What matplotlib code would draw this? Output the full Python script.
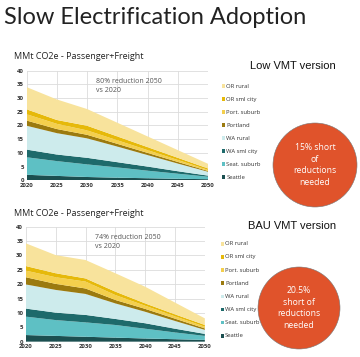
import numpy as np
import matplotlib
matplotlib.use('Agg')
import matplotlib.pyplot as plt
from matplotlib.patches import Circle

years = [2020, 2025, 2030, 2035, 2040, 2045, 2050]
series_names = ['Seattle', 'Seat. suburb', 'WA sml city', 'WA rural',
                'Portland', 'Port. suburb', 'OR sml city', 'OR rural']
series_colors = ['#1b4f50', '#5ec0c4', '#1e6a6b', '#cdebec',
                 '#9b7a0f', '#f4cf4d', '#e6b90a', '#f8e39c']

# Low VMT version (MMt CO2e per region)
low_seattle = [2.0, 1.6, 1.2, 0.95, 0.75, 0.55, 0.4]
low_seat_suburb = [6.4, 5.4, 4.6, 3.75, 2.75, 1.85, 0.9]
low_wa_sml_city = [2.8, 2.4, 2.4, 1.9, 1.5, 0.9, 0.4]
low_wa_rural = [8.7, 7.8, 7.1, 5.7, 4.2, 2.8, 1.4]
low_portland = [1.9, 1.5, 1.3, 1.0, 0.8, 0.6, 0.3]
low_port_suburb = [2.3, 1.9, 1.6, 1.3, 1.0, 0.7, 0.4]
low_or_sml_city = [1.8, 1.4, 1.7, 1.4, 1.1, 0.8, 0.5]
low_or_rural = [8.1, 7.5, 6.1, 5.0, 3.9, 2.8, 1.7]

# BAU VMT version
bau_seattle = [2.3, 2.0, 1.7, 1.4, 1.1, 0.85, 0.6]
bau_seat_suburb = [6.4, 5.5, 5.0, 4.4, 3.4, 2.35, 1.4]
bau_wa_sml_city = [2.8, 2.6, 2.6, 2.1, 1.9, 1.3, 0.7]
bau_wa_rural = [8.4, 7.9, 7.3, 5.4, 4.0, 2.7, 1.4]
bau_portland = [2.5, 2.1, 1.9, 1.2, 1.0, 0.8, 0.5]
bau_port_suburb = [2.3, 2.3, 2.4, 1.7, 1.1, 0.8, 0.6]
bau_or_sml_city = [1.6, 1.4, 1.1, 1.2, 0.8, 0.7, 0.6]
bau_or_rural = [7.9, 6.3, 6.4, 6.4, 5.8, 4.1, 2.3]

low_stack = [low_seattle, low_seat_suburb, low_wa_sml_city, low_wa_rural,
             low_portland, low_port_suburb, low_or_sml_city, low_or_rural]
bau_stack = [bau_seattle, bau_seat_suburb, bau_wa_sml_city, bau_wa_rural,
             bau_portland, bau_port_suburb, bau_or_sml_city, bau_or_rural]

SANS = ['Open Sans', 'DejaVu Sans']

fig = plt.figure(figsize=(3.6, 3.57), dpi=100)
fig.patch.set_facecolor('white')

fig.text(0.012, 0.950, 'Slow Electrification Adoption', fontsize=17,
         family=['Lato', 'DejaVu Sans'], fontweight='normal',
         color='#222222', va='center', ha='left')


def draw_panel(rect, stack, note, subtitle_y, version, version_xy,
               legend_x, legend_top, legend_step, circle_c, circle_r, circle_text):
    ax = fig.add_axes(rect)
    ax.stackplot(years, *stack, colors=series_colors, linewidth=0)
    ax.set_xlim(2020, 2050)
    ax.set_ylim(0, 40)
    ax.set_xticks(years)
    ax.set_yticks(range(0, 41, 5))
    ax.grid(True, color='#dcdcdc', lw=0.6)
    ax.set_axisbelow(True)
    for s in ax.spines.values():
        s.set_visible(False)
    ax.tick_params(length=0, labelsize=4.3, pad=2, colors='#333333')
    for lab in ax.get_xticklabels() + ax.get_yticklabels():
        lab.set_fontweight('bold')
        lab.set_family(SANS)
    ax.text(2031.5, 37.5, note, fontsize=5, color='#555555', va='top',
            family=SANS, linespacing=1.5)

    fig.text(0.04, subtitle_y, 'MMt CO2e - Passenger+Freight', fontsize=6.5,
             family=SANS, color='#222222', va='center')
    fig.text(version_xy[0], version_xy[1], version, fontsize=8,
             family=['Liberation Sans', 'DejaVu Sans'], color='#111111',
             ha='center', va='center')

    # legend, top to bottom in reverse stacking order
    for i, (name, col) in enumerate(zip(series_names[::-1], series_colors[::-1])):
        yy = legend_top - i * legend_step
        fig.patches.append(plt.Rectangle((legend_x, yy - 0.005), 0.008, 0.01,
                                         transform=fig.transFigure,
                                         facecolor=col, edgecolor='none'))
        fig.text(legend_x + 0.011, yy, name, fontsize=4.2, family=SANS,
                 color='#333333', va='center')

    circ = Circle(circle_c, circle_r, transform=fig.dpi_scale_trans,
                  facecolor='#e0532b', edgecolor='#777777', lw=0.4)
    fig.patches.append(circ)
    fig.text(circle_c[0] / 3.6, circle_c[1] / 3.57, circle_text, fontsize=6.2,
             family=SANS, color='white', ha='center', va='center',
             linespacing=1.35)
    return ax


draw_panel([0.074, 0.495, 0.504, 0.307], low_stack,
           '80% reduction 2050\nvs 2020', 0.843,
           'Low VMT version', (0.814, 0.815),
           0.618, 0.759, 0.0364,
           (3.15, 3.57 - 1.65), 0.42, '15% short\nof\nreductions\nneeded')

draw_panel([0.072, 0.043, 0.497, 0.322], bau_stack,
           '74% reduction 2050\nvs 2020', 0.403,
           'BAU VMT version', (0.810, 0.367),
           0.614, 0.317, 0.0368,
           (2.99, 3.57 - 3.08), 0.41, '20.5%\nshort of\nreductions\nneeded')

fig.savefig('out.png', dpi=100)
